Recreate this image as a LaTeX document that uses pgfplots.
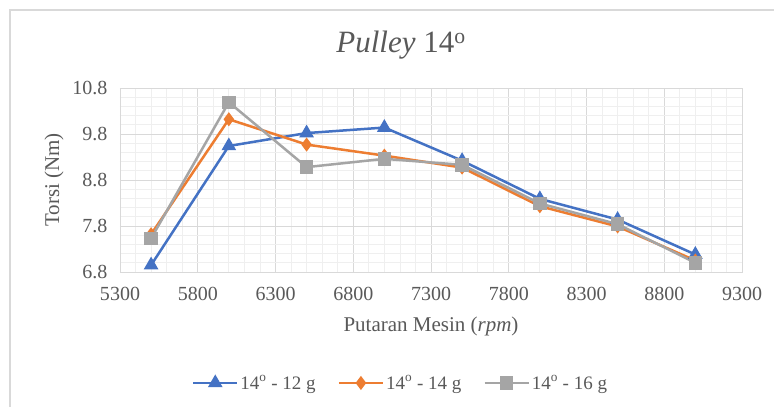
\documentclass[border=0pt]{standalone}
\usepackage{pgfplots}
\pgfplotsset{compat=1.18}
\usepackage{fontspec}
\setmainfont{Liberation Serif}
\definecolor{cblue}{HTML}{4472C4}
\definecolor{corange}{HTML}{ED7D31}
\definecolor{cgray}{HTML}{A5A5A5}
\definecolor{ctext}{HTML}{595959}
\definecolor{cgrid}{HTML}{D9D9D9}
\definecolor{cminor}{HTML}{EFEFEF}
\begin{document}
\begin{tikzpicture}
\useasboundingbox (0,0) rectangle (774bp,407bp);
\fill[white] (0,0) rectangle (774bp,407bp);
\draw[cgrid, line width=1.2bp] (10bp,0) -- (10bp,397bp) -- (774bp,397bp);
\node[text=ctext, font=\fontsize{31bp}{34bp}\selectfont] at (401bp,362bp) {\textit{Pulley} 14\textsuperscript{o}};
\begin{axis}[
  at={(120bp,135bp)}, anchor=south west,
  scale only axis, width=622bp, height=184bp,
  xmin=5300, xmax=9300, ymin=6.8, ymax=10.8,
  xtick={5300,5800,...,9300},
  ytick={6.8,7.8,8.8,9.8,10.8},
  minor x tick num=4, minor y tick num=4,
  grid=both,
  major grid style={cgrid, line width=0.8bp},
  minor grid style={cminor, line width=0.8bp},
  axis line style={cgrid, line width=0.8bp},
  major tick length=0pt, minor tick length=0pt,
  tick label style={text=ctext, font=\fontsize{20bp}{23bp}\selectfont},
  /pgf/number format/assume math mode=true,
  /pgf/number format/set thousands separator={},
  yticklabel style={/pgf/number format/fixed, /pgf/number format/fixed zerofill, /pgf/number format/precision=1, xshift=-9bp},
  xticklabel style={yshift=-12bp},
  xlabel={Putaran Mesin (\textit{rpm})},
  ylabel={Torsi (Nm)},
  label style={text=ctext, font=\fontsize{21bp}{24bp}\selectfont},
  xlabel style={at={(rel axis cs:0.5,0)}, anchor=center, yshift=-54bp},
  ylabel style={at={(rel axis cs:0,0.5)}, anchor=center, rotate=0, yshift=66bp},
  legend style={at={(0.451,-0.603)}, anchor=center, draw=none, fill=none,
    legend columns=3, font=\fontsize{19bp}{22bp}\selectfont, text=ctext,
    /tikz/every even column/.append style={column sep=20bp}},
  legend image code/.code={
    \draw[#1, mark=none] (0cm,0cm) -- (1.55cm,0cm);
    \draw[#1, only marks] plot coordinates {(0.775cm,0cm)};
  },
]
\addplot[cblue, line width=2.5bp, mark=triangle*, mark size=6bp, mark options={solid}] coordinates {
(5500,6.95) (6000,9.54) (6500,9.82) (7000,9.94) (7500,9.22) (8000,8.39) (8500,7.94) (9000,7.18)};
\addlegendentry{14\textsuperscript{o} - 12 g}
\addplot[corange, line width=2.5bp, mark=diamond*, mark size=5bp, mark options={solid}] coordinates {
(5500,7.62) (6000,10.12) (6500,9.57) (7000,9.33) (7500,9.07) (8000,8.23) (8500,7.79) (9000,7.05)};
\addlegendentry{14\textsuperscript{o} - 14 g}
\addplot[cgray, line width=2.5bp, mark=square*, mark size=5.5bp, mark options={solid}] coordinates {
(5500,7.53) (6000,10.49) (6500,9.08) (7000,9.26) (7500,9.13) (8000,8.29) (8500,7.84) (9000,7.00)};
\addlegendentry{14\textsuperscript{o} - 16 g}
\end{axis}
\end{tikzpicture}
\end{document}
